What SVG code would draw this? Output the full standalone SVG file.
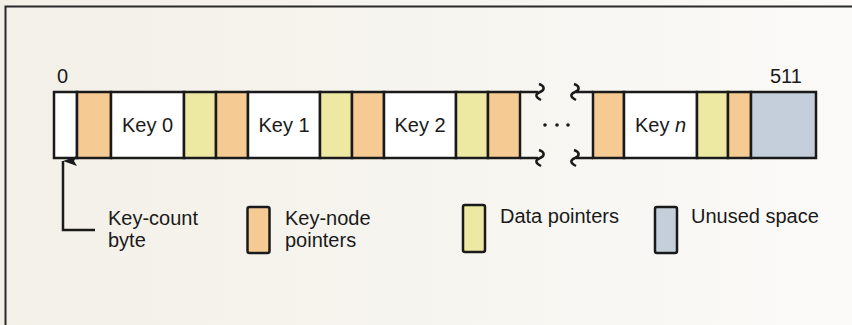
<svg xmlns="http://www.w3.org/2000/svg" width="852" height="325" viewBox="0 0 852 325">
<defs>
<style>
.c{stroke:#1a1a1a;stroke-width:2.5}
.w{fill:#ffffff}
.o{fill:#f6cb93}
.y{fill:#eee9a2}
.b{fill:#c4cfdb}
.t{font-family:"Liberation Sans",Arial,sans-serif;font-size:20px;fill:#1a1a1a}
.m{text-anchor:middle}
.ln{stroke:#1a1a1a;stroke-width:2.5;fill:none}
.sw{stroke:#1a1a1a;stroke-width:2.5}
</style>
<linearGradient id="bg" x1="0" y1="0" x2="1" y2="0">
<stop offset="0" stop-color="#f3f0e8"/>
<stop offset="0.45" stop-color="#f6f4ee"/>
<stop offset="1" stop-color="#fbfaf8"/>
</linearGradient>
<marker id="ah" viewBox="0 0 10 14" refX="5" refY="0" markerWidth="10" markerHeight="14" orient="auto-start-reverse" markerUnits="userSpaceOnUse">
<path d="M0,14 L5,0 L10,14 L5,11 Z" fill="#1a1a1a"/>
</marker>
</defs>
<rect x="0" y="0" width="852" height="325" fill="url(#bg)"/>
<path d="M5.5,325 V6.5 H852" fill="none" stroke="#2a2a2a" stroke-width="2"/>

<g id="labels">
<text class="t" x="57" y="83">0</text>
<text class="t" x="770" y="83">511</text>
</g>

<g id="bar">
<g id="cell-keycount"><rect class="c w" x="54" y="92" width="23" height="66"/></g>
<g id="cell-kp0"><rect class="c o" x="77" y="92" width="34" height="66"/></g>
<g id="cell-key0"><rect class="c w" x="111" y="92" width="73" height="66"/><text class="t m" x="147.5" y="132">Key 0</text></g>
<g id="cell-dp0"><rect class="c y" x="184" y="92" width="32" height="66"/></g>
<g id="cell-kp1"><rect class="c o" x="216" y="92" width="32" height="66"/></g>
<g id="cell-key1"><rect class="c w" x="248" y="92" width="72" height="66"/><text class="t m" x="284" y="132">Key 1</text></g>
<g id="cell-dp1"><rect class="c y" x="320" y="92" width="32" height="66"/></g>
<g id="cell-kp2"><rect class="c o" x="352" y="92" width="32" height="66"/></g>
<g id="cell-key2"><rect class="c w" x="384" y="92" width="72" height="66"/><text class="t m" x="420" y="132">Key 2</text></g>
<g id="cell-dp2"><rect class="c y" x="456" y="92" width="32" height="66"/></g>
<g id="cell-kp3"><rect class="c o" x="488" y="92" width="32" height="66"/></g>
<g id="break-left">
<path class="ln" d="M520,92 H538 M520,158 H538"/>
<path class="ln" d="M539,84 C545,86 545,90 540,92 C535,94 535,97 541,100" stroke-width="2.2"/>
<path class="ln" d="M539,150 C545,152 545,156 540,158 C535,160 535,163 541,166" stroke-width="2.2"/>
</g>
<g id="ellipsis" fill="#1a1a1a">
<circle cx="545" cy="125" r="1.8"/><circle cx="557" cy="125" r="1.8"/><circle cx="568" cy="125" r="1.8"/>
</g>
<g id="break-right">
<path class="ln" d="M576,92 H593 M576,158 H593"/>
<path class="ln" d="M574,84 C580,86 580,90 575,92 C570,94 570,97 576,100" stroke-width="2.2"/>
<path class="ln" d="M574,150 C580,152 580,156 575,158 C570,160 570,163 576,166" stroke-width="2.2"/>
</g>
<g id="cell-kpn"><rect class="c o" x="593" y="92" width="31" height="66"/></g>
<g id="cell-keyn"><rect class="c w" x="624" y="92" width="73" height="66"/><text class="t m" x="660.5" y="132">Key <tspan font-style="italic">n</tspan></text></g>
<g id="cell-dpn"><rect class="c y" x="697" y="92" width="31" height="66"/></g>
<g id="cell-kpn2"><rect class="c o" x="728" y="92" width="23" height="66"/></g>
<g id="cell-unused"><rect class="c b" x="751" y="92" width="65" height="66"/></g>
</g>

<g id="connectors">
<path class="ln" d="M95,230 H63 V161" marker-end="url(#ah)"/>
</g>

<g id="legend-keycount">
<text class="t" x="108" y="225">Key-count</text>
<text class="t" x="108" y="247">byte</text>
</g>
<g id="legend-keynode">
<rect class="sw o" x="247.5" y="207" width="22" height="46" rx="2"/>
<text class="t" x="285" y="225">Key-node</text>
<text class="t" x="285" y="247">pointers</text>
</g>
<g id="legend-data">
<rect class="sw y" x="463" y="205" width="22" height="47" rx="2"/>
<text class="t" x="500" y="223">Data pointers</text>
</g>
<g id="legend-unused">
<rect class="sw b" x="655" y="207" width="22" height="46" rx="2"/>
<text class="t" x="691" y="223">Unused space</text>
</g>
</svg>
